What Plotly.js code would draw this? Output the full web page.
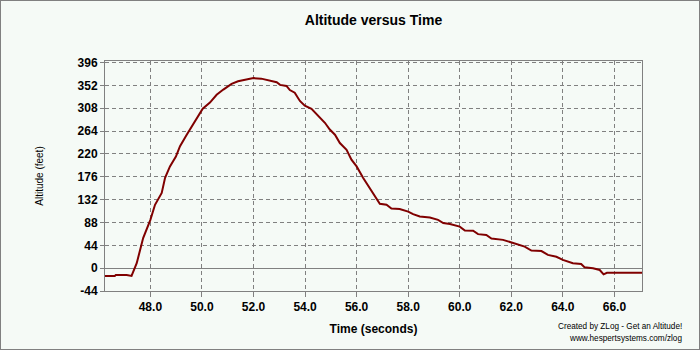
<!DOCTYPE html>
<html>
<head>
<meta charset="utf-8">
<script src="https://cdn.plot.ly/plotly-3.0.1.min.js"></script>
<style>
  html, body { margin: 0; padding: 0; background: #F5FAF6; }
  #wrap { position: relative; width: 700px; height: 350px; }
  #chart { width: 700px; height: 350px; }
  #frame { position: absolute; left: 0; top: 0; width: 698px; height: 348px; border: 1px solid #808080; pointer-events: none; }
</style>
</head>
<body>
<div id="wrap">
  <div id="chart"></div>
  <div id="frame"></div>
</div>
<script>
// Time (seconds)
const timeSec = [46.24, 46.62, 46.66, 47.08, 47.27, 47.47, 47.72, 48.00, 48.18, 48.31, 48.44, 48.57, 48.76, 48.99, 49.15, 49.41, 49.66, 50.03, 50.31, 50.57, 50.83, 51.00, 51.15, 51.40, 51.60, 51.80, 52.00, 52.30, 52.50, 52.70, 52.90, 53.03, 53.28, 53.41, 53.60, 53.80, 53.99, 54.25, 54.45, 54.77, 54.96, 55.16, 55.35, 55.61, 55.80, 56.00, 56.25, 56.51, 56.70, 56.90, 57.16, 57.35, 57.67, 58.00, 58.19, 58.45, 58.84, 59.16, 59.36, 59.62, 60.00, 60.20, 60.52, 60.71, 61.03, 61.23, 61.68, 62.00, 62.20, 62.52, 62.78, 63.17, 63.42, 63.75, 64.00, 64.39, 64.71, 64.84, 65.17, 65.43, 65.58, 65.71, 67.07];
// Altitude (feet)
const altitudeFt = [-15, -15, -13, -13, -15, 9.5, 58, 93, 122, 133, 145, 174, 196, 215, 235, 257, 277, 307, 319, 334, 344, 350, 355, 360, 362, 365, 366, 365, 363, 361, 358, 353, 351, 343, 338, 322, 313, 307, 296, 280, 267, 257, 241, 228, 209, 196, 174, 154, 138, 124, 122, 115, 114, 109, 104, 99.5, 97.6, 93, 87, 85, 80, 72.5, 72, 65.5, 64, 57, 54.5, 49, 47, 41.5, 34, 33, 25.5, 22, 16, 9.5, 8, 1.7, 0, -3.5, -12, -9, -9];

const xTickVals = [48, 50, 52, 54, 56, 58, 60, 62, 64, 66];
const xTickText = ['48.0', '50.0', '52.0', '54.0', '56.0', '58.0', '60.0', '62.0', '64.0', '66.0'];
const yTickVals = [-44, 0, 44, 88, 132, 176, 220, 264, 308, 352, 396];
const yTickText = ['-44', '0', '44', '88', '132', '176', '220', '264', '308', '352', '396'];

const bg = '#F5FAF6';
const grey = '#808080';
const fam = 'Liberation Sans, Arial, sans-serif';

const trace = {
  x: timeSec,
  y: altitudeFt,
  type: 'scatter',
  mode: 'lines',
  line: { color: '#800000', width: 2 },
  hoverinfo: 'skip'
};

const layout = {
  width: 700,
  height: 350,
  margin: { l: 105, r: 58, t: 61, b: 59 },
  paper_bgcolor: bg,
  plot_bgcolor: bg,
  showlegend: false,
  title: {
    text: 'Altitude versus Time',
    font: { family: fam, size: 14, color: '#000', weight: 'bold' },
    xref: 'paper', x: 0.5, xanchor: 'center',
    yref: 'container', y: 1 - 20 / 350, yanchor: 'middle'
  },
  xaxis: {
    range: [46.24, 67.07],
    tickmode: 'array', tickvals: xTickVals, ticktext: xTickText,
    showgrid: true, gridcolor: grey, gridwidth: 1, griddash: '4px,3px',
    zeroline: false,
    showline: true, mirror: true, linecolor: grey, linewidth: 1,
    ticks: 'outside', ticklen: 5, tickcolor: grey, tickwidth: 1,
    tickfont: { family: fam, size: 12, color: '#000', weight: 'bold' },
    title: { text: 'Time (seconds)', font: { family: fam, size: 12, color: '#000', weight: 'bold' }, standoff: 11 },
    automargin: false, fixedrange: true
  },
  yaxis: {
    range: [-44, 399],
    tickmode: 'array', tickvals: yTickVals, ticktext: yTickText,
    showgrid: true, gridcolor: grey, gridwidth: 1, griddash: '4px,3px',
    zeroline: true, zerolinecolor: grey, zerolinewidth: 1,
    showline: true, mirror: true, linecolor: grey, linewidth: 1,
    ticks: 'outside', ticklen: 4, tickcolor: grey, tickwidth: 1,
    tickfont: { family: fam, size: 12, color: '#000', weight: 'bold' },
    title: { text: 'Altitude (feet)', font: { family: fam, size: 10, color: '#000' }, standoff: 32 },
    automargin: false, fixedrange: true
  },
  annotations: [
    { text: 'Created by ZLog - Get an Altitude!', xref: 'paper', yref: 'paper',
      x: (684 - 105) / 537, y: (291 - 326.5) / 230, xanchor: 'right', yanchor: 'middle',
      showarrow: false, font: { family: fam, size: 8.2, color: '#000' } },
    { text: 'www.hespertsystems.com/zlog', xref: 'paper', yref: 'paper',
      x: (684 - 105) / 537, y: (291 - 338.5) / 230, xanchor: 'right', yanchor: 'middle',
      showarrow: false, font: { family: fam, size: 8.2, color: '#000' } }
  ]
};

Plotly.newPlot('chart', [trace], layout, { displayModeBar: false, staticPlot: true });
</script>
</body>
</html>
